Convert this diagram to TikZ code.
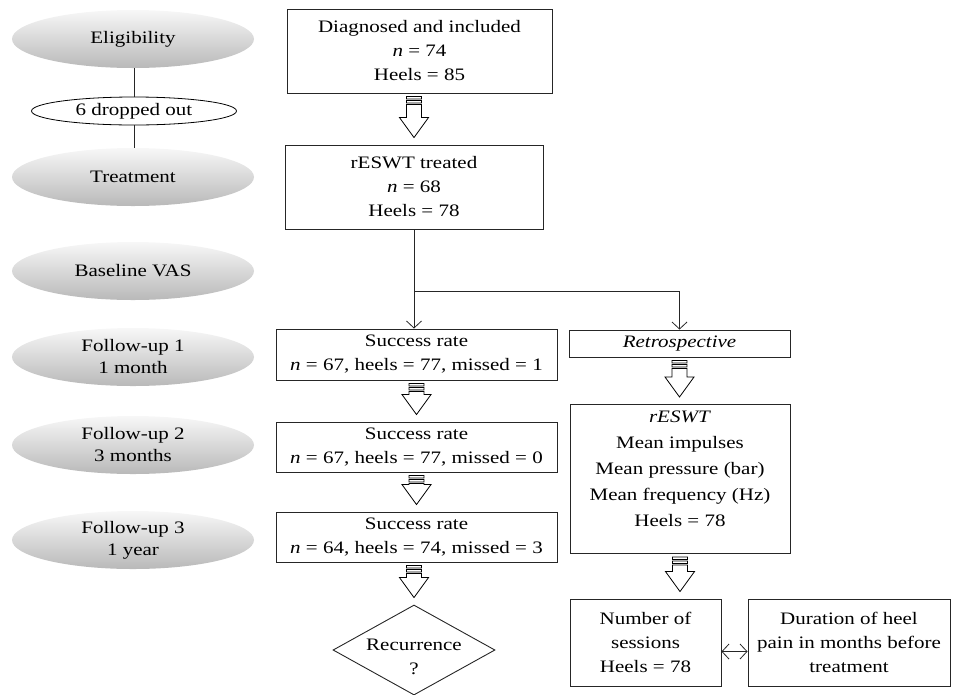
\documentclass[tikz,border=0pt]{standalone}
\usepackage{fontspec}
\setmainfont{Liberation Serif}[FakeStretch=1.2]
\usetikzlibrary{shapes.geometric,arrows.meta,calc}
\newcommand\fatarrow[2]{%
  \draw[fatarr] let \p1=#1, \p2=#2 in
   (\x1-7.5pt,\y1-3pt) rectangle (\x1+7.5pt,\y1-5.5pt)
   (\x1-7.5pt,\y1-7pt) rectangle (\x1+7.5pt,\y1-9.5pt)
   (\x1-7.5pt,\y1-11pt) -- (\x1-7.5pt,\y2+27pt) -- (\x1-14.5pt,\y2+27pt)
   -- (\x1,\y2+7pt) -- (\x1+14.5pt,\y2+27pt) -- (\x1+7.5pt,\y2+27pt)
   -- (\x1+7.5pt,\y1-11pt) -- cycle;}
\tikzset{
  every node/.style={font=\fontsize{17.5pt}{24pt}\selectfont},
  phase/.style={ellipse, minimum width=242pt, minimum height=58pt, inner sep=0pt,
    align=center, top color=gray!6, middle color=gray!22, bottom color=gray!55,
    font=\fontsize{17.5pt}{22pt}\selectfont},
  drop/.style={ellipse, draw=black, line width=0.8pt, fill=white,
    minimum width=205pt, minimum height=28pt, inner sep=0pt},
  box/.style={draw=black!85, line width=0.9pt, fill=white, align=center, inner sep=0pt},
  fatarr/.style={draw=black, line width=0.8pt, fill=white, line join=miter},
  link/.style={draw=black!85, line width=0.8pt},
  thin/.style={link, -{Straight Barb[length=7pt,width=15pt]}},
  both/.style={link, {Straight Barb[length=7pt,width=15pt]}-{Straight Barb[length=7pt,width=15pt]}},
}
\begin{document}
\begin{tikzpicture}[x=1pt,y=-1pt]
\useasboundingbox (0,0) rectangle (955,694);
% left phase column
\node[phase] (elig) at (133,39) {Eligibility};
\node[drop]  (drop) at (134,111) {6 dropped out};
\node[phase] (treat) at (133,177) {Treatment};
\node[phase] (base) at (133,271) {Baseline VAS};
\node[phase] (fu1) at (133,357) {Follow-up 1\\1 month};
\node[phase] (fu2) at (133,445) {Follow-up 2\\3 months};
\node[phase] (fu3) at (133,540) {Follow-up 3\\1 year};
\draw[link] (elig.south -| drop.north) -- (drop.north);
\draw[link] (drop.south) -- (drop.south |- treat.north);
% middle column
\node[box, minimum width=265pt, minimum height=84pt] (b1) at (419.5,51)
  {Diagnosed and included\\\textit{n} = 74\\Heels = 85};
\node[box, minimum width=258pt, minimum height=84pt] (b2) at (414,187)
  {rESWT treated\\\textit{n} = 68\\Heels = 78};
\node[box, minimum width=281pt, minimum height=51pt] (sa) at (416.5,354.5)
  {Success rate\\\textit{n} = 67, heels = 77, missed = 1};
\node[box, minimum width=281pt, minimum height=50pt] (sb) at (416.5,447)
  {Success rate\\\textit{n} = 67, heels = 77, missed = 0};
\node[box, minimum width=281pt, minimum height=50pt] (sc) at (416.5,537)
  {Success rate\\\textit{n} = 64, heels = 74, missed = 3};
\node[draw=black!85, line width=0.9pt, diamond, minimum width=162pt, minimum height=90pt,
  inner sep=0pt] (rec) at (414,650) {};
\node[align=center] (rectext) at (414,657) {Recurrence\\?};
% right column
\node[box, minimum width=221pt, minimum height=27pt] (retro) at (679.5,343.5) {\textit{Retrospective}};
\node[box, minimum width=220pt, minimum height=149pt, anchor=north] (rx) at (680,404) {};
\node[align=center, anchor=north, font=\fontsize{17.5pt}{26pt}\selectfont] (rxtext) at (rx.north) [yshift=-3pt]
  {\textit{rESWT}\\Mean impulses\\Mean pressure (bar)\\Mean frequency (Hz)\\Heels = 78};
\node[box, minimum width=151pt, minimum height=87pt] (ses) at (645.5,642.5)
  {Number of\\sessions\\Heels = 78};
\node[box, minimum width=202pt, minimum height=87pt] (dur) at (849,642.5)
  {Duration of heel\\pain in months before\\treatment};
% connectors
\fatarrow{(b1.south -| b2.north)}{(b2.north)}
\coordinate (j) at ($(b2.south)+(0,62)$);
\draw[thin] (b2.south) -- (b2.south |- sa.north);
\draw[thin] (j) -| (retro.north);
\fatarrow{(sa.south)}{(sb.north)}
\fatarrow{(sb.south)}{(sc.north)}
\fatarrow{(sc.south -| rec.north)}{(rec.north)}
\fatarrow{(retro.south)}{(rx.north)}
\fatarrow{(rx.south)}{(rx.south |- ses.north)}
\draw[both] ($(ses.east)+(0,9)$) -- ($(dur.west)+(0,9)$);
\end{tikzpicture}
\end{document}
